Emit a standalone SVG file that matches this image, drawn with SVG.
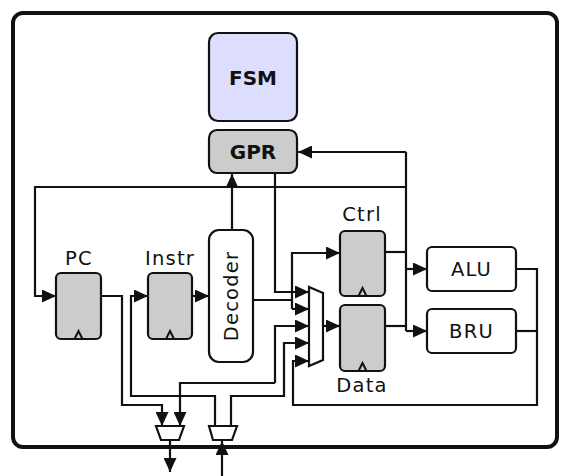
<svg xmlns="http://www.w3.org/2000/svg" width="580" height="476" viewBox="0 0 580 476">
<defs>
<marker id="arr" viewBox="0 0 14 13" refX="14" refY="6.5" markerWidth="14" markerHeight="13" markerUnits="userSpaceOnUse" orient="auto">
<path d="M0,0 L14,6.5 L0,13 z" fill="#111"/>
</marker>
<style>
.w{fill:none;stroke:#111;stroke-width:2.2}
.a{marker-end:url(#arr)}
.box{stroke:#111;stroke-width:2.2}
.reg{fill:#cccccc;stroke:#111;stroke-width:2.2}
.clk{fill:none;stroke:#111;stroke-width:2}
.lbl{font-family:"DejaVu Sans","Noto Sans",sans-serif;font-size:19.5px;letter-spacing:1.2px;fill:#111;text-anchor:middle}
.bold{font-family:"DejaVu Sans","Noto Sans",sans-serif;font-size:20px;font-weight:bold;fill:#111;text-anchor:middle}
</style>
</defs>
<rect x="13" y="13" width="544" height="434" rx="10" fill="#fff" stroke="#111" stroke-width="4"/>
<g id="connectors">
<path class="w" d="M406,152 V331"/>
<path class="w a" d="M406,152 H298"/>
<path class="w" d="M385,252 H406"/>
<path class="w" d="M385,326 H406"/>
<path class="w a" d="M406,269 H427"/>
<path class="w a" d="M406,331 H427"/>
<path class="w a" d="M406,187 H35 V296 H56"/>
<path class="w a" d="M232,230 V174"/>
<path class="w a" d="M275,173 V292 H309"/>
<path class="w" d="M253,300 H292"/>
<path class="w a" d="M292,309 V253 H340"/>
<path class="w a" d="M292,309 H309"/>
<path class="w a" d="M275,383 V326 H309"/>
<path class="w a" d="M275,383 H180 V426"/>
<path class="w a" d="M231,426 V396 H284 V343 H309"/>
<path class="w" d="M516,331 H537"/>
<path class="w a" d="M516,269 H537 V405 H293 V361 H309"/>
<path class="w a" d="M323,326 H340"/>
<path class="w a" d="M101,296 H122 V405 H162 V426"/>
<path class="w a" d="M215,426 V396 H131 V296 H148"/>
<path class="w a" d="M192,296 H209"/>
<path class="w a" d="M170,440 V472"/>
<path class="w a" d="M222,476 V441"/>
</g>
<g id="fsm">
<rect class="box" x="209" y="33" width="88" height="88" rx="9" fill="#ddddfd"/>
<text class="bold" x="253" y="85">FSM</text>
</g>
<g id="gpr">
<rect class="box" x="209" y="130" width="88" height="43" rx="8" fill="#cccccc"/>
<text class="bold" x="253" y="159">GPR</text>
</g>
<g id="pc">
<rect class="reg" x="56" y="273" width="45" height="66" rx="5"/>
<path class="clk" d="M74.5,339 L78.5,331 L82.5,339"/>
<text class="lbl" x="79" y="265">PC</text>
</g>
<g id="instr">
<rect class="reg" x="148" y="273" width="44" height="66" rx="5"/>
<path class="clk" d="M166,339 L170,331 L174,339"/>
<text class="lbl" x="170" y="265">Instr</text>
</g>
<g id="decoder">
<rect class="box" x="209" y="230" width="44" height="132" rx="10" fill="#fff"/>
<text class="lbl" x="231" y="296" dominant-baseline="central" transform="rotate(-90 231 296)">Decoder</text>
</g>
<g id="mux">
<polygon points="309,287 323,293 323,360 309,366" fill="#fff" stroke="#111" stroke-width="2.2"/>
</g>
<g id="ctrl">
<rect class="reg" x="340" y="231" width="45" height="65" rx="5"/>
<path class="clk" d="M358.5,296 L362.5,288 L366.5,296"/>
<text class="lbl" x="362" y="221">Ctrl</text>
</g>
<g id="data">
<rect class="reg" x="340" y="305" width="45" height="66" rx="5"/>
<path class="clk" d="M358.5,371 L362.5,363 L366.5,371"/>
<text class="lbl" x="362" y="392">Data</text>
</g>
<g id="alu">
<rect class="box" x="427" y="247" width="89" height="44" rx="5" fill="#fff"/>
<text class="lbl" x="471.5" y="276">ALU</text>
</g>
<g id="bru">
<rect class="box" x="427" y="309" width="89" height="44" rx="5" fill="#fff"/>
<text class="lbl" x="471.5" y="338">BRU</text>
</g>
<g id="mux-out">
<polygon points="156,426 184,426 179,440 161,440" fill="#fff" stroke="#111" stroke-width="2.2"/>
</g>
<g id="mux-in">
<polygon points="209,426 237,426 232,440 213,440" fill="#fff" stroke="#111" stroke-width="2.2"/>
</g>
</svg>
